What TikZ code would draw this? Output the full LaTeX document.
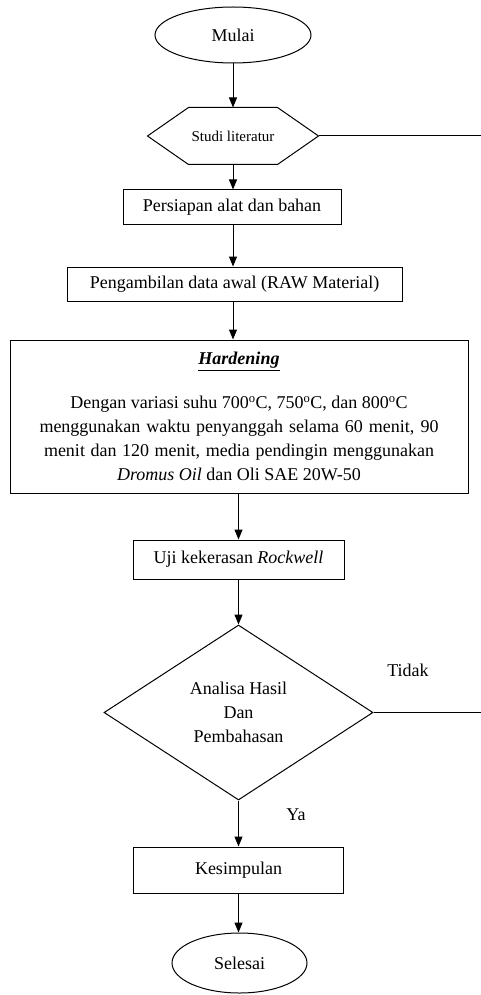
\documentclass[tikz,border=0pt]{standalone}
\usepackage{fontspec}
\setmainfont{Liberation Serif}
\usetikzlibrary{shapes.geometric,arrows.meta}
\begin{document}
\begin{tikzpicture}[x=1pt,y=-1pt,
  line width=1pt,
  txt/.style={font=\fontsize{18}{24}\selectfont},
  base/.style={txt, draw=black, line width=1pt, inner sep=0pt},
  term/.style={base, ellipse},
  proc/.style={base, rectangle},
  dec/.style={base, diamond, align=center},
  arr/.style={-{Triangle[length=10pt,width=8pt]}}]
\useasboundingbox (0,0) rectangle (481,995);

\node[term, minimum width=156pt, minimum height=56pt] (mulai) at (233,35) {Mulai};
\node[inner sep=0pt, minimum width=170pt, minimum height=56pt, font=\fontsize{15}{18}\selectfont] (studi) at (233,136) {Studi literatur};
\draw (studi.west) -- ([xshift=41pt]studi.north west) -- ([xshift=-41pt]studi.north east) -- (studi.east) -- ([xshift=-41pt]studi.south east) -- ([xshift=41pt]studi.south west) -- cycle;
\node[proc, minimum width=218pt, minimum height=34pt] (siap) at (232,207) {Persiapan alat dan bahan};
\node[proc, minimum width=335pt, minimum height=34pt] (awal) at (234.5,284) {Pengambilan data awal (RAW Material)};
\node[proc, minimum width=458pt, minimum height=153pt, align=center] (hard) at (239,416.5)
 {{\bfseries\itshape\underline{Hardening}}\\[20pt]
  Dengan variasi suhu 700\textsuperscript{o}C, 750\textsuperscript{o}C, dan 800\textsuperscript{o}C\\
  \makebox[399pt][s]{menggunakan waktu penyanggah selama 60 menit, 90}\\
  \makebox[390pt][s]{menit dan 120 menit, media pendingin menggunakan}\\
  \textit{Dromus Oil} dan Oli SAE 20W-50};
\node[proc, minimum width=211pt, minimum height=39pt] (uji) at (238.5,559.5) {Uji kekerasan \textit{Rockwell}};
\node[dec, minimum width=269pt, minimum height=175pt] (anal) at (238.5,712.5) {Analisa Hasil\\Dan\\Pembahasan};
\node[proc, minimum width=210pt, minimum height=46pt] (simp) at (238.5,870) {Kesimpulan};
\node[term, minimum width=135pt, minimum height=60pt] (selesai) at (239.5,963) {Selesai};

\node[txt] (tidak) at (408,670) {Tidak};
\node[txt] (ya) at (296,815) {Ya};

\coordinate (r1) at (481,136);
\coordinate (r2) at (481,712.5);

\draw[arr] (mulai.south) -- (mulai.south |- studi.north);
\draw[arr] (studi.south) -- (studi.south |- siap.north);
\draw[arr] (siap.south -| studi.south) -- (studi.south |- awal.north);
\draw[arr] (awal.south -| studi.south) -- (studi.south |- hard.north);
\draw[arr] (hard.south -| uji.north) -- (uji.north);
\draw[arr] (uji.south) -- (anal.north);
\draw[arr] (anal.south) -- (anal.south |- simp.north);
\draw[arr] (simp.south -| anal.south) -- (anal.south |- selesai.north);
\draw (studi.east) -- (r1);
\draw (anal.east) -- (r2);
\end{tikzpicture}
\end{document}
